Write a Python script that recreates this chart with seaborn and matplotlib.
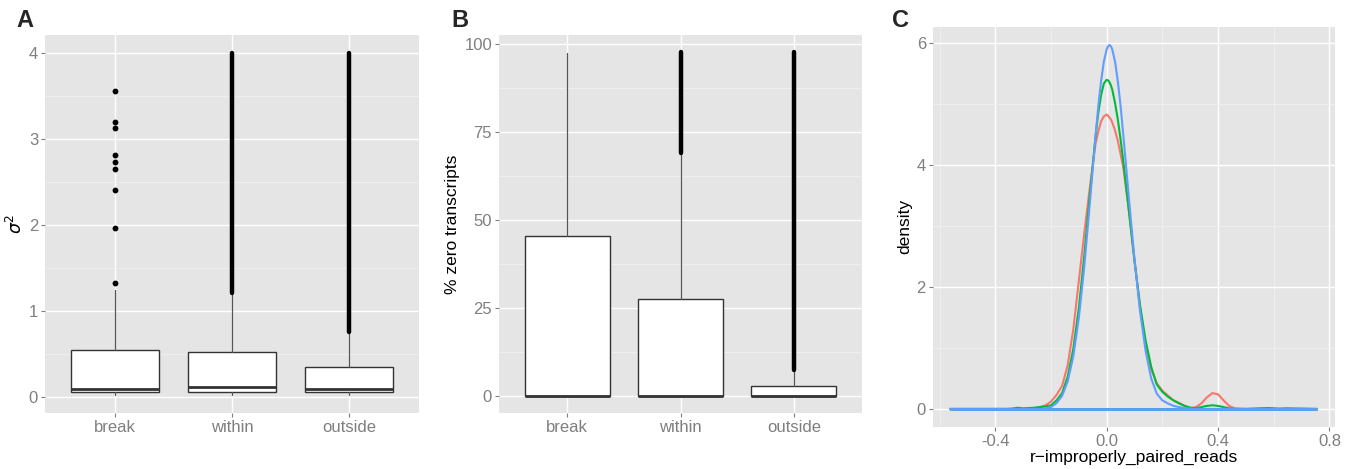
import numpy as np
import pandas as pd
import matplotlib
matplotlib.use('Agg')
import matplotlib.pyplot as plt
from matplotlib.ticker import FixedLocator, FormatStrFormatter
import seaborn as sns

# categories shared by the two box plots
groups = ['break', 'within', 'outside']

# A: sigma^2 box statistics
a_whislo = [0.02, 0.02, 0.02]
a_q1 = [0.05, 0.05, 0.05]
a_med = [0.086, 0.116, 0.093]
a_q3 = [0.54, 0.52, 0.34]
a_whishi = [1.24, 1.20, 0.75]
a_break_outliers = [1.32, 1.96, 2.40, 2.65, 2.73, 2.81, 3.13, 3.19, 3.56]
# the other two groups have so many outliers they merge into a solid bar
a_dense_lo = [np.nan, 1.20, 0.75]
a_dense_hi = [np.nan, 4.00, 4.00]

# B: % zero transcripts box statistics
b_whislo = [0, 0, 0]
b_q1 = [0, 0, 0]
b_med = [0, 0, 0]
b_q3 = [45.6, 27.7, 2.9]
b_whishi = [97.6, 69.0, 7.5]
b_dense_lo = [np.nan, 69.0, 7.5]
b_dense_hi = [np.nan, 97.9, 97.9]

# C: density curves of r-improperly_paired_reads
c_x = [-0.562, -0.36, -0.34, -0.32, -0.30, -0.28, -0.26, -0.24, -0.22, -0.20,
       -0.18, -0.16, -0.14, -0.12, -0.10, -0.08, -0.06, -0.04, -0.03, -0.02,
       -0.01, 0.0, 0.005, 0.01, 0.015, 0.02, 0.03, 0.04, 0.05, 0.06,
       0.08, 0.10, 0.12, 0.14, 0.16, 0.18,
       0.20, 0.22, 0.24, 0.26, 0.28, 0.30, 0.32, 0.34, 0.36, 0.38,
       0.40, 0.42, 0.44, 0.46, 0.50, 0.55, 0.58, 0.62, 0.65, 0.70, 0.755]
c_red = [0, 0, 0, 0, 0, 0.005, 0.015, 0.03, 0.06, 0.12,
         0.23, 0.38, 0.72, 1.30, 2.10, 2.90, 3.65, 4.35, 4.55, 4.72,
         4.80, 4.83, 4.81, 4.78, 4.75, 4.70, 4.57, 4.40, 4.18, 3.95,
         3.25, 2.45, 1.65, 1.05, 0.65, 0.42,
         0.30, 0.22, 0.14, 0.10, 0.05, 0.015, 0.03, 0.09, 0.19, 0.26,
         0.24, 0.14, 0.05, 0.01, 0, 0, 0, 0, 0, 0, 0]
c_green = [0, 0, 0.005, 0.02, 0.01, 0.015, 0.02, 0.03, 0.04, 0.06,
           0.14, 0.26, 0.53, 0.98, 1.65, 2.53, 3.53, 4.47, 4.86, 5.15,
           5.34, 5.40, 5.39, 5.36, 5.31, 5.24, 5.02, 4.75, 4.42, 4.05,
           3.24, 2.42, 1.70, 1.12, 0.69, 0.40,
           0.28, 0.20, 0.14, 0.09, 0.05, 0.02, 0.01, 0.03, 0.05, 0.06,
           0.05, 0.03, 0.01, 0, 0, 0.01, 0.015, 0.005, 0.01, 0.005, 0]
c_blue = [0, 0, 0, 0, 0, 0, 0, 0, 0.01, 0.03,
          0.095, 0.215, 0.45, 0.86, 1.49, 2.35, 3.40, 4.48, 4.97, 5.38,
          5.70, 5.90, 5.95, 5.97, 5.95, 5.90, 5.70, 5.38, 4.97, 4.48,
          3.45, 2.45, 1.60, 0.95, 0.50, 0.25,
          0.14, 0.09, 0.05, 0.03, 0.015, 0.005, 0, 0, 0, 0,
          0, 0, 0, 0, 0, 0, 0, 0, 0, 0, 0]

sns.set_theme(style='darkgrid', rc={
    'axes.facecolor': '#E5E5E5',
    'grid.color': 'white',
    'grid.linewidth': 1.0,
    'xtick.bottom': True,
    'ytick.left': True,
    'xtick.major.size': 3,
    'ytick.major.size': 3,
    'xtick.major.width': 0.8,
    'ytick.major.width': 0.8,
    'xtick.color': '#7F7F7F',
    'ytick.color': '#7F7F7F',
    'xtick.labelcolor': '#7F7F7F',
    'ytick.labelcolor': '#7F7F7F',
    'xtick.major.pad': 2,
    'ytick.major.pad': 2,
})
plt.rcParams['font.family'] = ['Liberation Sans', 'DejaVu Sans']
plt.rcParams['mathtext.fontset'] = 'dejavusans'

fig = plt.figure(figsize=(13.56, 4.69), dpi=100)
axA = fig.add_axes([0.0332, 0.1194, 0.2758, 0.806])
axB = fig.add_axes([0.368, 0.1194, 0.2677, 0.806])
axC = fig.add_axes([0.688, 0.0896, 0.2965, 0.8534])

edge = '#333333'
pos = list(range(len(groups)))


def box_panel(ax, whislo, q1, med, q3, whishi, fliers, dense_lo, dense_hi):
    stats = []
    for i, g in enumerate(groups):
        stats.append(dict(label=g, whislo=whislo[i], q1=q1[i], med=med[i],
                          q3=q3[i], whishi=whishi[i], fliers=fliers[i]))
    ax.bxp(stats, positions=pos, widths=0.75, patch_artist=True, showcaps=False,
           boxprops=dict(facecolor='white', edgecolor=edge, linewidth=1.0),
           medianprops=dict(color=edge, linewidth=2.0),
           whiskerprops=dict(color='#555555', linewidth=0.9),
           flierprops=dict(marker='o', markerfacecolor='black',
                           markeredgecolor='none', markersize=4.2),
           zorder=3)
    for i in pos:
        if not np.isnan(dense_lo[i]):
            ax.plot([i, i], [dense_lo[i], dense_hi[i]], color='black',
                    linewidth=3.2, solid_capstyle='round', zorder=4)
    ax.set_xlim(-0.6, 2.6)
    ax.set_xticks(pos)
    ax.set_xticklabels(groups)
    ax.grid(axis='x', which='major', color='white', linewidth=1.0)
    ax.yaxis.grid(True, which='minor', color='#F0F0F0', linewidth=0.6)
    ax.tick_params(which='minor', length=0)
    ax.tick_params(labelsize=12)
    for s in ax.spines.values():
        s.set_visible(False)


# A
box_panel(axA, a_whislo, a_q1, a_med, a_q3, a_whishi,
          [a_break_outliers, [], []], a_dense_lo, a_dense_hi)
axA.set_ylim(-0.19, 4.206)
axA.yaxis.set_major_locator(FixedLocator([0, 1, 2, 3, 4]))
axA.yaxis.set_minor_locator(FixedLocator([0.5, 1.5, 2.5, 3.5]))
axA.set_ylabel(r'$\sigma^2$', fontsize=12.5, color='black', labelpad=3)

# B
box_panel(axB, b_whislo, b_q1, b_med, b_q3, b_whishi,
          [[], [], []], b_dense_lo, b_dense_hi)
axB.set_ylim(-4.75, 102.6)
axB.yaxis.set_major_locator(FixedLocator([0, 25, 50, 75, 100]))
axB.yaxis.set_minor_locator(FixedLocator([12.5, 37.5, 62.5, 87.5]))
axB.set_ylabel('% zero transcripts', fontsize=12.5, color='black', labelpad=3)

# C
colors = ['#F8766D', '#00BA38', '#619CFF']
df = pd.DataFrame({
    'x': c_x * 3,
    'density': c_red + c_green + c_blue,
    'set': ['red'] * len(c_x) + ['green'] * len(c_x) + ['blue'] * len(c_x),
})
for name, col in zip(['red', 'green', 'blue'], colors):
    sub = df[df['set'] == name]
    axC.hlines(0, sub['x'].min(), sub['x'].max(), color=col, linewidth=2.0, zorder=3)
    sns.lineplot(data=sub, x='x', y='density', color=col, linewidth=1.5,
                 estimator=None, ax=axC, zorder=3)
axC.set_xlim(-0.624, 0.82)
axC.set_ylim(-0.296, 6.27)
axC.xaxis.set_major_locator(FixedLocator([-0.4, 0.0, 0.4, 0.8]))
axC.xaxis.set_minor_locator(FixedLocator([-0.6, -0.2, 0.2, 0.6]))
axC.xaxis.set_major_formatter(FormatStrFormatter('%.1f'))
axC.yaxis.set_major_locator(FixedLocator([0, 2, 4, 6]))
axC.yaxis.set_minor_locator(FixedLocator([1, 3, 5]))
axC.grid(True, which='minor', color='#F0F0F0', linewidth=0.6)
axC.tick_params(which='minor', length=0)
axC.tick_params(labelsize=12)
axC.set_xlabel('r\u2212improperly_paired_reads', fontsize=12.5, color='black', labelpad=1)
axC.set_ylabel('density', fontsize=12.5, color='black', labelpad=3)
for s in axC.spines.values():
    s.set_visible(False)

# panel letters
for lx, letter in [(0.012, 'A'), (0.333, 'B'), (0.658, 'C')]:
    fig.text(lx, 0.98, letter, fontsize=17, fontweight='bold', va='top', ha='left')

fig.savefig('out.png', dpi=100)
